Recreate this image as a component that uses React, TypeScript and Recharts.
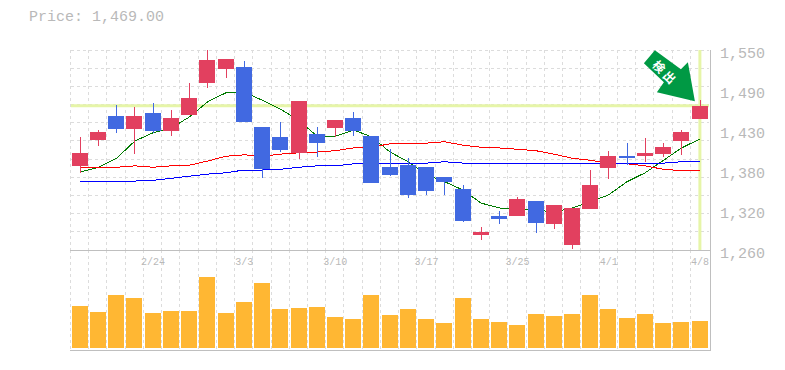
import { Bar, CartesianGrid, ComposedChart, Line, ReferenceDot, ReferenceLine, XAxis, YAxis } from "recharts"

const dates = [
  "2/18", "2/19", "2/20", "2/21", "2/24", "2/25", "2/26", "2/27", "2/28", "3/3",
  "3/4", "3/5", "3/6", "3/7", "3/10", "3/11", "3/12", "3/13", "3/14", "3/17",
  "3/18", "3/19", "3/21", "3/24", "3/25", "3/26", "3/27", "3/28", "3/31", "4/1",
  "4/2", "4/3", "4/4", "4/7", "4/8",
]
const opens = [
  1382, 1419, 1454, 1435, 1459, 1433, 1456, 1502, 1522, 1525,
  1438, 1424, 1401, 1428, 1437, 1451, 1425, 1380, 1383, 1380,
  1366, 1348, 1282, 1309, 1309, 1331, 1298, 1267, 1319, 1379,
  1396, 1396, 1399, 1418, 1450,
]
const closes = [
  1401, 1431, 1435, 1454, 1433, 1451, 1480, 1535, 1537, 1446,
  1377, 1405, 1476, 1415, 1448, 1433, 1357, 1369, 1340, 1346,
  1359, 1302, 1286, 1305, 1334, 1299, 1325, 1321, 1354, 1396,
  1393, 1401, 1409, 1431, 1469,
]
const highs = [
  1424, 1434, 1470, 1467, 1473, 1463, 1502, 1550, 1537, 1534,
  1438, 1446, 1476, 1438, 1448, 1460, 1425, 1406, 1393, 1380,
  1366, 1354, 1293, 1317, 1337, 1331, 1325, 1321, 1376, 1404,
  1415, 1422, 1415, 1434, 1477,
]
const lows = [
  1372, 1411, 1430, 1399, 1430, 1425, 1456, 1495, 1509, 1446,
  1364, 1402, 1392, 1395, 1424, 1425, 1357, 1367, 1335, 1340,
  1340, 1301, 1274, 1298, 1309, 1285, 1290, 1262, 1319, 1363,
  1383, 1388, 1395, 1398, 1450,
]
const ma5 = [
  1373, 1380, 1393, 1418, 1430, 1437, 1453, 1475, 1488, 1489,
  1477, 1464, 1448, 1425, 1425, 1434, 1424, 1402, 1388, 1369,
  1359, 1347, 1328, 1321, 1319, 1318, 1315, 1321, 1330, 1340,
  1359, 1372, 1390, 1408, 1421,
]
const ma25 = [
  1380, 1380, 1380, 1382, 1380, 1382, 1383, 1389, 1396, 1398,
  1396, 1399, 1401, 1402, 1404, 1408, 1409, 1414, 1414, 1415,
  1417, 1412, 1409, 1408, 1406, 1404, 1399, 1393, 1390, 1386,
  1385, 1382, 1377, 1375, 1375,
]
const ma75 = [
  1359, 1359, 1359, 1360, 1361, 1364, 1367, 1370, 1372, 1376,
  1376, 1377, 1380, 1382, 1382, 1385, 1386, 1386, 1386, 1386,
  1388, 1386, 1386, 1385, 1385, 1385, 1385, 1385, 1385, 1385,
  1385, 1386, 1386, 1388, 1389,
]
const volumes = [
  420, 360, 530, 500, 350, 370, 370, 710, 350, 460,
  650, 390, 400, 410, 310, 290, 530, 330, 390, 290,
  250, 500, 290, 260, 230, 340, 320, 340, 530, 390,
  300, 340, 250, 260, 270,
]
const dateTicks = ["2/24", "3/3", "3/10", "3/17", "3/25", "4/1", "4/8"]
const priceTicks = [1550, 1492, 1434, 1376, 1318, 1260]
const lastPrice = 1469
const arrowLabel = "検出"

const rows = dates.map((date, i) => ({
  date,
  open: opens[i],
  close: closes[i],
  high: highs[i],
  low: lows[i],
  range: [lows[i], highs[i]],
  ma5: ma5[i],
  ma25: ma25[i],
  ma75: ma75[i],
  volume: volumes[i],
}))

const GRID = "#dcdcdc"
const AXIS = "#bfbfbf"
const TEXT = "#b9b9b9"
const MONO = '"Liberation Mono", monospace'
const PRICE_MIN = 1260
const PRICE_MAX = 1550
const VOLUME_FLOOR = -20

function Candle(props: any) {
  const { x, y, width, height, payload } = props
  const { open, close, high, low } = payload
  const up = close >= open
  const color = up ? "#e2405f" : "#4169e1"
  // y/height cover low..high, so the body is placed by proportion
  const perPrice = height / (high - low)
  const top = Math.round(y + (high - Math.max(open, close)) * perPrice)
  const bottom = Math.round(y + (high - Math.min(open, close)) * perPrice)
  const left = Math.round(x - 0.2)
  const mid = left + 8.5
  return (
    <g shapeRendering="crispEdges">
      <line x1={mid} x2={mid} y1={Math.round(y)} y2={Math.round(y + height)} stroke={color} strokeWidth={1} />
      <rect x={left} y={top} width={width} height={Math.max(bottom - top, 1)} fill={color} />
    </g>
  )
}

function VolumeBar(props: any) {
  const { x, y, width, height, fill } = props
  const top = Math.round(y)
  return <rect x={Math.round(x - 0.2)} y={top} width={width} height={Math.round(y + height) - top} fill={fill} />
}

function PriceTick(props: any) {
  const { x, y, payload } = props
  const label = (Math.round(payload.value / 10) * 10).toLocaleString("en-US")
  return (
    <text x={x} y={y + 8} fontFamily={MONO} fontSize={15} fill={TEXT}>
      {label}
    </text>
  )
}

function DateTick(props: any) {
  const { x, y, payload } = props
  return (
    <text x={x} y={y + 7} textAnchor="middle" fontFamily={MONO} fontSize={10} fill={TEXT}>
      {payload.value}
    </text>
  )
}

// arrow pointing down-right, its tip just left of the reference dot
function Arrow(props: any) {
  const { cx, cy } = props
  return (
    <g transform={`translate(${cx},${cy})`}>
      <polygon points="-45,-50 -56,-37 -36,-18 -43,-8 -5,1 -12,-38 -19,-31" fill="#009944" />
      <text
        x={-34}
        y={-28}
        fontSize={12}
        fontWeight={700}
        letterSpacing={3}
        fontFamily='"Noto Sans CJK JP"'
        fill="#ffffff"
        textAnchor="middle"
        dominantBaseline="central"
        transform="rotate(45 -34 -28)"
      >
        {arrowLabel}
      </text>
    </g>
  )
}

// snapped to whole pixels so the dashes stay crisp
const slotLines = ({ offset }: any) =>
  dates.map((_, i) => Math.floor(offset.left - 0.5 + (i * offset.width) / dates.length) + 0.5)

const rowLines = ({ offset }: any) =>
  Array.from({ length: 11 }, (_, i) => Math.floor(offset.top + (i * offset.height) / 11) + 0.5)

const layer = (top: number) => ({ position: "absolute" as const, left: 0, top })

export default function App() {
  return (
    <div style={{ position: "absolute", left: 0, top: 0, width: 785, height: 370 }}>
      <div
        style={{
          position: "absolute",
          left: 29,
          top: 9,
          fontFamily: MONO,
          fontSize: 15,
          lineHeight: "18px",
          color: TEXT,
          whiteSpace: "pre",
        }}
      >
        Price: 1,469.00
      </div>

      {/* grid, highlight lines and averages sit under the candles */}
      <div style={layer(0)}>
        <ComposedChart width={785} height={270} data={rows} margin={{ top: 50, right: 0, bottom: 20, left: 71 }}>
          <CartesianGrid
            stroke={GRID}
            strokeDasharray="3 3"
            verticalCoordinatesGenerator={slotLines}
            horizontalCoordinatesGenerator={rowLines}
          />
          <XAxis dataKey="date" scale="band" hide />
          <YAxis
            orientation="right"
            width={76}
            domain={[PRICE_MIN, PRICE_MAX]}
            ticks={priceTicks}
            interval={0}
            allowDataOverflow
            axisLine={false}
            tickLine={false}
            tick={<PriceTick />}
            tickMargin={5}
          />
          <ReferenceLine y={lastPrice} stroke="#e6f5a8" strokeWidth={3} />
          <ReferenceLine x="4/8" stroke="#e6f5a8" strokeWidth={3} />
          <Line dataKey="ma5" stroke="#007a00" strokeWidth={1} dot={false} activeDot={false} shapeRendering="crispEdges" isAnimationActive={false} />
          <Line dataKey="ma25" stroke="#ff0000" strokeWidth={1} dot={false} activeDot={false} shapeRendering="crispEdges" isAnimationActive={false} />
          <Line dataKey="ma75" stroke="#0000ff" strokeWidth={1} dot={false} activeDot={false} shapeRendering="crispEdges" isAnimationActive={false} />
        </ComposedChart>
      </div>

      <div style={layer(0)}>
        <ComposedChart
          width={785}
          height={270}
          data={rows}
          barCategoryGap={0}
          margin={{ top: 50, right: 76, bottom: 20, left: 71 }}
        >
          <XAxis dataKey="date" hide />
          <YAxis hide domain={[PRICE_MIN, PRICE_MAX]} allowDataOverflow />
          <Bar dataKey="range" barSize={16} shape={<Candle />} isAnimationActive={false} />
          <ReferenceDot x="4/8" y={1477} shape={<Arrow />} />
        </ComposedChart>
      </div>

      <div style={layer(250)}>
        <ComposedChart
          width={785}
          height={110}
          data={rows}
          barCategoryGap={0}
          margin={{ top: 0, right: 76, bottom: 10, left: 71 }}
        >
          <CartesianGrid stroke={GRID} strokeDasharray="3 3" horizontal={false} verticalCoordinatesGenerator={slotLines} />
          <XAxis
            dataKey="date"
            orientation="top"
            xAxisId="labels"
            mirror
            ticks={dateTicks}
            interval={0}
            axisLine={false}
            tickLine={false}
            tick={<DateTick />}
          />
          <XAxis dataKey="date" hide />
          <YAxis hide domain={[VOLUME_FLOOR, 980]} />
          <Bar dataKey="volume" barSize={16} fill="#ffb733" shape={<VolumeBar />} isAnimationActive={false} />
        </ComposedChart>
      </div>

      <div style={{ position: "absolute", left: 70, top: 250, width: 641, height: 1, background: AXIS }} />
      <div style={{ position: "absolute", left: 70, top: 350, width: 641, height: 1, background: AXIS }} />
      <div style={{ position: "absolute", left: 710, top: 50, width: 1, height: 301, background: AXIS }} />
    </div>
  )
}
